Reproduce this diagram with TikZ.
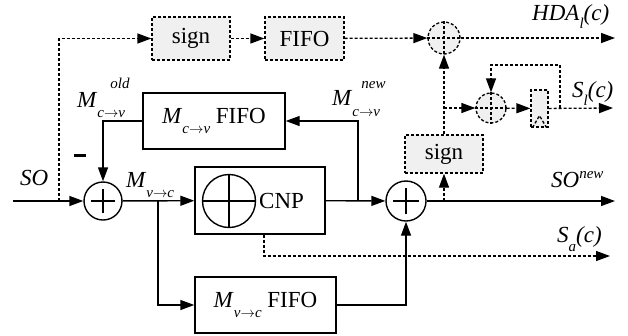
\documentclass[tikz,border=0pt]{standalone}
\usepackage{fontspec}
\setmainfont{Liberation Serif}
\usetikzlibrary{arrows.meta}
\newcommand{\lsub}[2][-9pt]{\raisebox{#1}{\fontsize{15}{15}\selectfont #2}}
\newcommand{\lsup}[2][12pt]{\raisebox{#1}{\fontsize{15}{15}\selectfont #2}}
\newcommand{\cv}{\textit{c}$\rightarrow$\textit{v}}
\newcommand{\vc}{\textit{v}$\rightarrow$\textit{c}}
\begin{document}
\begin{tikzpicture}[x=1pt,y=-1pt,font=\fontsize{23}{25}\selectfont,
  ln/.style={line width=1.4pt},
  dl/.style={line width=1.3pt,dash pattern=on 3pt off 2pt},
  arr/.style={-{Triangle[length=14pt,width=10pt]}},
  blk/.style={draw,line width=1.4pt,inner sep=0pt},
  dblk/.style={blk,line width=1.3pt,dash pattern=on 3pt off 2pt,fill=gray!12},
  lbl/.style={anchor=base west,inner sep=0pt}]
\path[use as bounding box] (0,0) rectangle (628,335);
% blocks
\node[dblk,minimum width=78pt,minimum height=43pt] (sign1) at (191,38.5) {sign};
\node[dblk,minimum width=79pt,minimum height=43pt] (fifo1) at (304.5,38.5) {FIFO};
\node[dblk,circle,minimum size=32pt] (addT) at (444,38) {};
\node[dblk,circle,minimum size=30pt] (addS) at (491,108) {};
\node[dblk,minimum width=17pt,minimum height=37pt] (reg) at (539.5,108.5) {};
\node[dblk,minimum width=78pt,minimum height=38pt] (sign2) at (444,154) {sign};
\node[blk,minimum width=142pt,minimum height=56pt] (fifoM) at (214,121) {\textit{M}\lsub[-10pt]{\cv}\ FIFO};
\node[blk,circle,minimum size=38pt] (add1) at (103,201) {};
\node[blk,minimum width=130pt,minimum height=67pt] (cnp) at (260,200.5) {};
\node[blk,circle,minimum size=53pt] (cnpc) at (229,201) {};
\node[anchor=west,inner sep=0pt] (cnpt) at (259,201) {CNP};
\node[blk,circle,minimum size=40pt] (add2) at (406,201) {};
\node[blk,minimum width=141pt,minimum height=56pt] (fifoV) at (265.5,305) {\textit{M}\lsub[-10pt]{\vc}\ FIFO};
% crosses
\draw[ln] ([xshift=-12pt]add1.center) -- ([xshift=12pt]add1.center);
\draw[ln] ([yshift=-12pt]add1.center) -- ([yshift=12pt]add1.center);
\draw[ln] ([xshift=-13pt]add2.center) -- ([xshift=13pt]add2.center);
\draw[ln] ([yshift=-13pt]add2.center) -- ([yshift=13pt]add2.center);
\draw[ln] (cnpc.west) -- (cnpc.east);
\draw[ln] (cnpc.north) -- (cnpc.south);
\draw[dl] (addT.west) -- (addT.east);
\draw[dl] (addT.north) -- (addT.south);
\draw[dl] (addS.west) -- (addS.east);
\draw[dl] (addS.north) -- (addS.south);
\draw[dl] ([xshift=-7pt]reg.south) -- ([yshift=12pt]reg.south) -- ([xshift=7pt]reg.south);
% coordinates
\coordinate (soin) at (13,201);
\coordinate (tap1) at (59,201);
\coordinate (hdaout) at (615,38);
\coordinate (tap2) at (444,108);
\coordinate (slout) at (613,108);
\coordinate (fb) at (560,108);
\coordinate (soout) at (615,201);
\coordinate (tap3) at (444,201);
\coordinate (tap4) at (158,201);
\coordinate (tap5) at (358,201);
\coordinate (saout) at (610,256);
% connectors
\draw[ln,arr] (soin) -- (add1);
\draw[dl,arr] (tap1) |- (sign1);
\draw[dl,arr] (sign1) -- (fifo1);
\draw[dl,arr] (fifo1) -- (addT);
\draw[dl,arr] (addT) -- (hdaout);
\draw[dl,arr] (sign2) -- (addT);
\draw[dl,arr] (tap2) -- (addS);
\draw[dl,arr] (addS) -- (reg);
\draw[dl,arr] (reg) -- (slout);
\draw[dl,arr] (fb) -- ++(0,-43) -| (addS);
\draw[ln,arr] (add2) -- (soout);
\draw[dl,arr] (tap3) -- (sign2);
\draw[ln,arr] (add1) -- (cnp);
\draw[ln,arr] (tap4) |- (fifoV);
\draw[ln,arr] (cnp) -- (add2);
\draw[ln,arr] (tap5) |- (fifoM);
\draw[ln,arr] (fifoM) -| (add1);
\draw[ln,arr] (fifoV) -| (add2);
\draw[dl,arr] ([xshift=4pt]cnp.south) |- (saout);
% labels
\node[lbl] (lso) at (20,185) {\textit{SO}};
\node[lbl] (lmvc) at (126,187) {\textit{M}\lsub[-10pt]{\vc}};
\node[lbl] (lmold) at (77,107) {\textit{M}\rlap{\lsub[-10pt]{\cv}}\hspace{13pt}\lsup[19pt]{\textit{old}}};
\node[lbl] (lmnew) at (332,105) {\textit{M}\rlap{\lsub[-11pt]{\cv}}\hspace{9pt}\lsup[17pt]{\textit{new}}};
\node[lbl] (lhda) at (532,20) {\textit{HDA}\lsub[-8pt]{\textit{l}}\textit{(c)}};
\node[lbl] (lsl) at (572,97) {\textit{S}\lsub[-8pt]{\textit{l}}\textit{(c)}};
\node[lbl] (lsonew) at (551,187) {\textit{SO}\lsup[9pt]{\textit{new}}};
\node[lbl] (lsa) at (557,242) {\textit{S}\lsub[-9pt]{\textit{a}}\textit{(c)}};
\node[inner sep=0pt] (minus) at (80,155.5) {\rule{12pt}{3.5pt}};
\end{tikzpicture}
\end{document}
